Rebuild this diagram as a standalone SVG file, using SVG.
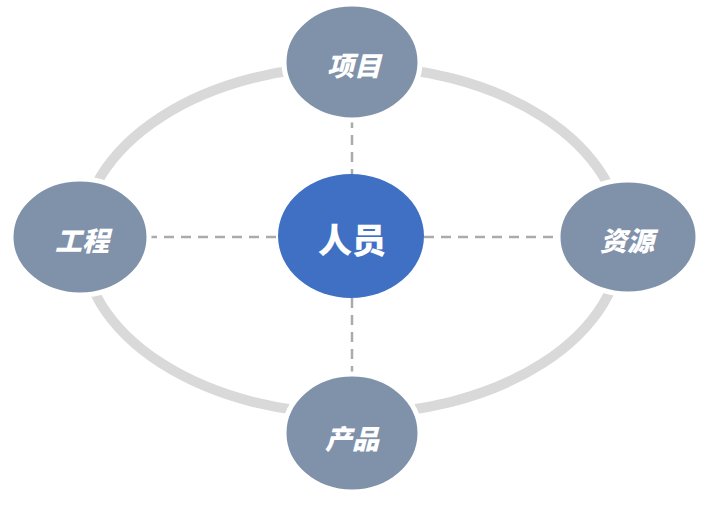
<svg xmlns="http://www.w3.org/2000/svg" width="708" height="505" viewBox="0 0 708 505">
<style>
.outer{fill:#8092aa;stroke:#fff;stroke-width:5}
.center{fill:#4070c4}
.lbl{font-family:"Noto Sans CJK SC","Noto Sans",sans-serif;font-weight:900;fill:#fff;text-anchor:middle;dominant-baseline:central}
.it{font-style:italic;font-size:27px}
.big{font-size:34px}
.dash{stroke:#ababab;stroke-width:2.5;stroke-dasharray:10 7;fill:none}
</style>
<rect width="708" height="505" fill="#fff"/>
<g id="ring">
<ellipse cx="352" cy="240" rx="270" ry="174" fill="none" stroke="#d9d9d9" stroke-width="10"/>
</g>
<g id="connectors">
<line class="dash" x1="147" y1="237" x2="278" y2="237"/>
<line class="dash" x1="424" y1="237" x2="560" y2="237"/>
<line class="dash" x1="352" y1="118" x2="352" y2="175"/>
<line class="dash" x1="352" y1="298" x2="352" y2="377"/>
</g>
<g id="node-xiangmu">
<ellipse class="outer" cx="352" cy="62" rx="68" ry="58"/>
<text class="lbl it" x="354" y="64">项目</text>
</g>
<g id="node-gongcheng">
<ellipse class="outer" cx="80" cy="237" rx="69" ry="58"/>
<text class="lbl it" x="82" y="239">工程</text>
</g>
<g id="node-ziyuan">
<ellipse class="outer" cx="628" cy="237" rx="70" ry="57"/>
<text class="lbl it" x="627" y="239">资源</text>
</g>
<g id="node-chanpin">
<ellipse class="outer" cx="352" cy="433" rx="68" ry="59"/>
<text class="lbl it" x="352" y="437">产品</text>
</g>
<g id="node-renyuan">
<ellipse class="center" cx="351" cy="236" rx="73" ry="62"/>
<text class="lbl big" x="352" y="238">人员</text>
</g>
</svg>
